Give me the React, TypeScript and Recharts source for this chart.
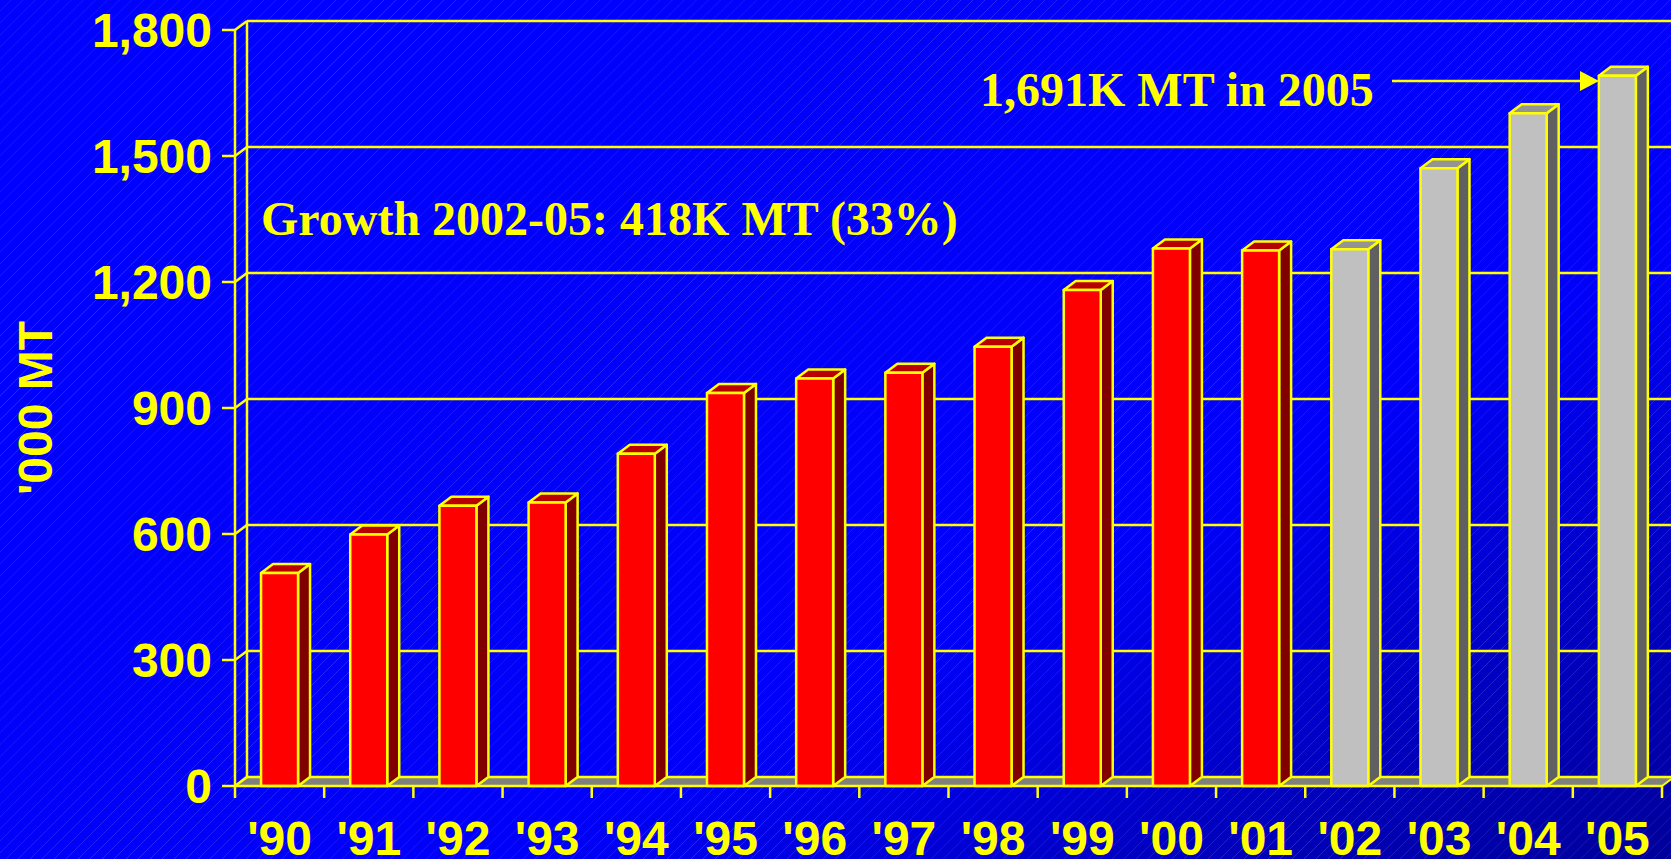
import { BarChart, Bar, XAxis, YAxis, CartesianGrid } from "recharts";

// values in '000 metric tonnes
const years = ["'90", "'91", "'92", "'93", "'94", "'95", "'96", "'97", "'98", "'99", "'00", "'01", "'02", "'03", "'04", "'05"];
const volumes = [507, 599, 667, 675, 791, 936, 970, 984, 1046, 1181, 1280, 1275, 1278, 1471, 1602, 1691];
const greyYears = ["'02", "'03", "'04", "'05"];
const yTicks = [0, 300, 600, 900, 1200, 1500, 1800];

const growthNote = "Growth 2002-05: 418K MT (33%)";
const peakNote = "1,691K MT in 2005";

const data = years.map((year, i) => ({ year, volume: volumes[i] }));

const YELLOW = "#FFFF00";
const DX = 12;
const DY = 9;
const SANS = "'Liberation Sans', Arial, sans-serif";
const SERIF = "'Liberation Serif', 'Times New Roman', serif";

const RED = { front: "#FF0000", top: "#B80000", side: "#800000" };
const GREY = { front: "#C0C0C0", top: "#949494", side: "#606060" };

function Bar3D(props: any) {
  const { x, y, width, height, payload } = props;
  if (!height || height <= 0) return null;
  const c = greyYears.includes(payload.year) ? GREY : RED;
  const r = x + width;
  const b = y + height;
  return (
    <g stroke={YELLOW} strokeWidth={2.5} strokeLinejoin="round">
      <polygon points={`${r},${y} ${r + DX},${y - DY} ${r + DX},${b - DY} ${r},${b}`} fill={c.side} />
      <polygon points={`${x},${y} ${x + DX},${y - DY} ${r + DX},${y - DY} ${r},${y}`} fill={c.top} />
      <rect x={x} y={y} width={width} height={height} fill={c.front} />
    </g>
  );
}

function GridLine(props: any) {
  const { x1, y1, x2, y, height, index } = props;
  const bottom = typeof y === "number" && typeof height === "number" ? y + height : undefined;
  const isFloor = bottom !== undefined ? Math.abs(y1 - bottom) < 0.5 : index === 0;
  return (
    <g>
      {isFloor && (
        <polygon
          points={`${x1},${y1} ${x2},${y1} ${x2 + DX},${y1 - DY} ${x1 + DX},${y1 - DY}`}
          fill="#808080"
          stroke={YELLOW}
          strokeWidth={2}
        />
      )}
      {isFloor && typeof y === "number" && (
        <line x1={x1 + DX} y1={y1 - DY} x2={x1 + DX} y2={y - DY} stroke={YELLOW} strokeWidth={2.5} />
      )}
      <line x1={x1} y1={y1} x2={x1 + DX} y2={y1 - DY} stroke={YELLOW} strokeWidth={2.5} />
      <line x1={x1 + DX} y1={y1 - DY} x2={x2 + DX + 30} y2={y1 - DY} stroke={YELLOW} strokeWidth={2.5} />
    </g>
  );
}

function YTick(props: any) {
  const { x, y, payload } = props;
  return (
    <g>
      <line x1={x - 13} y1={y} x2={x} y2={y} stroke={YELLOW} strokeWidth={2.5} />
      <text
        x={x - 23}
        y={y}
        dy="0.36em"
        textAnchor="end"
        fill={YELLOW}
        fontSize={48}
        fontWeight="bold"
        fontFamily={SANS}
      >
        {Number(payload.value).toLocaleString("en-US")}
      </text>
    </g>
  );
}

function XTick(props: any) {
  const { x, y, payload, index, width, visibleTicksCount } = props;
  const half =
    typeof width === "number" && visibleTicksCount ? width / visibleTicksCount / 2 : payload.offset || 0;
  return (
    <g>
      <line x1={x + half} y1={y} x2={x + half} y2={y + 12} stroke={YELLOW} strokeWidth={2.5} />
      {index === 0 && <line x1={x - half} y1={y} x2={x - half} y2={y + 12} stroke={YELLOW} strokeWidth={2.5} />}
      <text x={x} y={y + 69} textAnchor="middle" fill={YELLOW} fontSize={48} fontWeight="bold" fontFamily={SANS}>
        {payload.value}
      </text>
    </g>
  );
}

export default function App() {
  return (
    <div
      style={{
        position: "absolute",
        left: 0,
        top: 0,
        width: 1671,
        height: 859,
        overflow: "hidden",
        background:
          "repeating-linear-gradient(135deg, rgba(255,255,255,0) 0px, rgba(255,255,255,0) 7.5px, rgba(170,170,255,0.24) 8px, rgba(255,255,255,0) 8.5px), linear-gradient(to bottom right, #0000ff 0%, #0000fa 65%, #0000c0 85%, #00009a 100%)",
      }}
    >
      <BarChart
        width={1671}
        height={859}
        data={data}
        margin={{ top: 30, right: 9, bottom: 0, left: 0 }}
        barCategoryGap="29.2%"
      >
        <CartesianGrid horizontal={GridLine} vertical={false} />
        <XAxis
          dataKey="year"
          height={73}
          interval={0}
          tickLine={false}
          tickSize={0}
          tickMargin={0}
          axisLine={{ stroke: YELLOW, strokeWidth: 2.5 }}
          tick={XTick}
        />
        <YAxis
          width={235}
          domain={[0, 1800]}
          ticks={yTicks}
          interval={0}
          tickLine={false}
          tickSize={0}
          tickMargin={0}
          axisLine={{ stroke: YELLOW, strokeWidth: 2.5 }}
          tick={YTick}
        />
        <Bar dataKey="volume" shape={Bar3D} isAnimationActive={false} />
      </BarChart>
      <svg
        width={1671}
        height={859}
        style={{ position: "absolute", left: 0, top: 0, pointerEvents: "none" }}
      >
        <text
          x={35}
          y={408}
          transform="rotate(-90 35 408)"
          textAnchor="middle"
          dy="0.36em"
          fill={YELLOW}
          fontSize={48}
          fontWeight="bold"
          fontFamily={SANS}
        >
          '000 MT
        </text>
        <text x={261} y={235} fill={YELLOW} fontSize={48} fontWeight="bold" fontFamily={SERIF}>
          {growthNote}
        </text>
        <text x={980} y={106} fill={YELLOW} fontSize={48} fontWeight="bold" fontFamily={SERIF}>
          {peakNote}
        </text>
        <line x1={1392} y1={81} x2={1582} y2={81} stroke={YELLOW} strokeWidth={2.5} />
        <polygon points="1580,71 1599,81 1580,91" fill={YELLOW} />
      </svg>
    </div>
  );
}
